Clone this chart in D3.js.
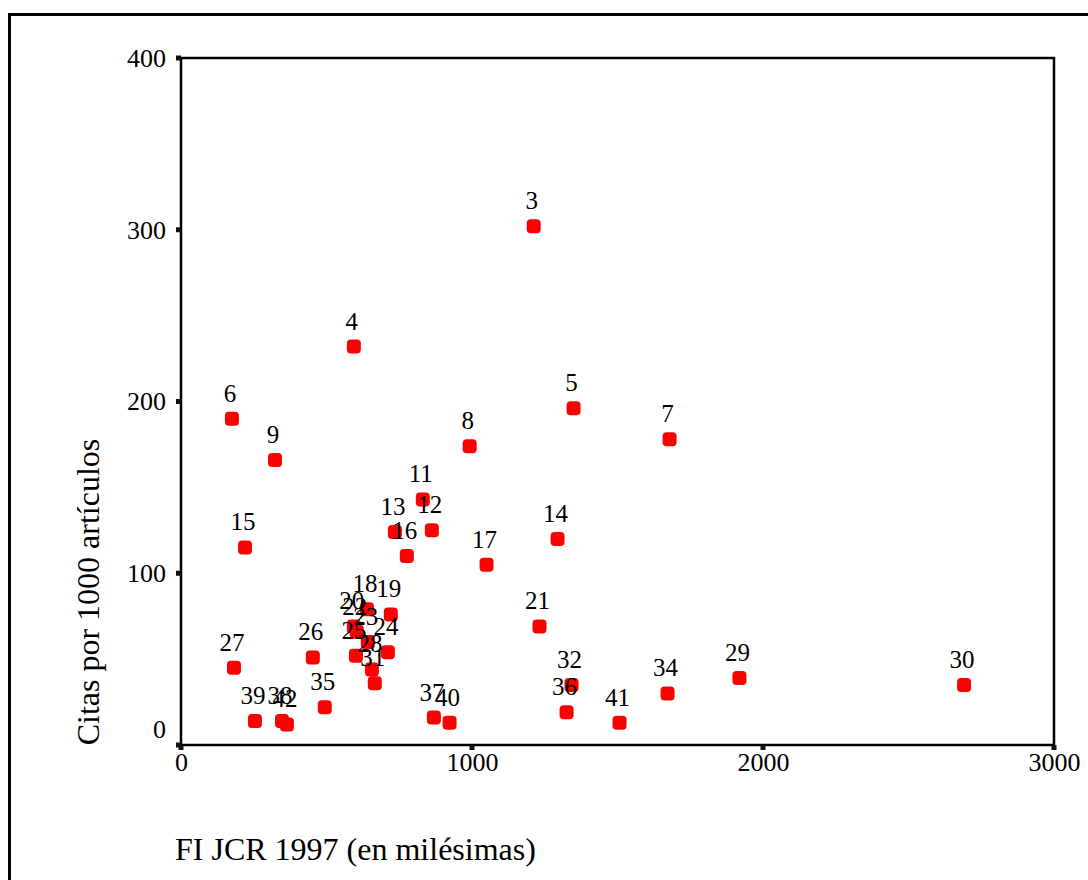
<!DOCTYPE html>
<html>
<head>
<meta charset="utf-8">
<script src="https://cdn.jsdelivr.net/npm/d3@7"></script>
<style>
    body { margin: 0; background: #fff; }
    svg { display: block; }
    text { font-family: "Liberation Serif", "Times New Roman", serif; fill: #000; }
</style>
</head>
<body>
<div id="chart"></div>
<script>
// Case numbers, impact factor (x) and citations per 1000 articles (y)
const caseIds = [3, 4, 5, 6, 7, 8, 9, 11, 12, 13, 14, 15, 16, 17, 18, 19, 20, 21, 22, 23, 24,
    25, 26, 27, 28, 29, 30, 31, 32, 34, 35, 36, 37, 38, 39, 40, 41, 42];
const fiValues = [1212, 594, 1349, 175, 1679, 992, 323, 831, 862, 735, 1294, 220, 776, 1050, 639, 721, 594, 1232, 604, 642, 711,
    601, 453, 182, 656, 1919, 2691, 666, 1342, 1672, 494, 1325, 869, 347, 254, 923, 1507, 364];
const citasValues = [302, 232, 196, 190, 178, 174, 166, 143, 125, 124, 120, 115, 110, 105, 79, 76, 69, 69, 66, 60, 54,
    52, 51, 45, 44, 39, 35, 36, 35, 30, 22, 19, 16, 14, 14, 13, 13, 12];
const xTicks = [0, 1000, 2000, 3000];
const yTicks = [0, 100, 200, 300, 400];

const width = 1088, height = 880;
const plot = { left: 181, top: 58, right: 1054, bottom: 745 };

const svg = d3.select('#chart')
    .append('svg')
    .attr('width', width)
    .attr('height', height);

// Outer border
svg.append('path')
    .attr('d', `M9.5,${height + 5} V14.5 H${width + 5}`)
    .attr('fill', 'none')
    .attr('stroke', '#000')
    .attr('stroke-width', 3);

const x = d3.scaleLinear().domain([0, 3000]).range([plot.left, plot.right]);
const y = d3.scaleLinear().domain([0, 400]).range([plot.bottom, plot.top]);

// Plot frame
svg.append('rect')
    .attr('x', plot.left)
    .attr('y', plot.top)
    .attr('width', plot.right - plot.left)
    .attr('height', plot.bottom - plot.top)
    .attr('fill', 'none')
    .attr('stroke', '#000')
    .attr('stroke-width', 2.5);

// Axes (tick labels only; square tick marks drawn separately)
svg.append('g')
    .attr('transform', `translate(0,${plot.bottom})`)
    .call(d3.axisBottom(x).tickValues(xTicks).tickSize(0).tickPadding(8).tickFormat(d3.format('d')))
    .call(g => g.select('.domain').remove())
    .call(g => g.selectAll('text').style('font-size', '26px').style('font-family', '"Liberation Serif", serif'));

svg.append('g')
    .attr('transform', `translate(${plot.left},0)`)
    .call(d3.axisLeft(y).tickValues(yTicks).tickSize(0).tickPadding(15).tickFormat(d3.format('d')))
    .call(g => g.select('.domain').remove())
    .call(g => g.selectAll('text').style('font-size', '26px').style('font-family', '"Liberation Serif", serif'))
    .call(g => g.selectAll('.tick').filter(d => d === 0).select('text').attr('dy', '-0.3em'));

svg.selectAll('.xtick-mark')
    .data(xTicks)
    .enter()
    .append('rect')
    .attr('x', d => x(d) - 2.5)
    .attr('y', plot.bottom)
    .attr('width', 5)
    .attr('height', 5)
    .attr('fill', '#111');

svg.selectAll('.ytick-mark')
    .data(yTicks)
    .enter()
    .append('rect')
    .attr('x', plot.left - 5)
    .attr('y', d => y(d) - 2.5)
    .attr('width', 5)
    .attr('height', 5)
    .attr('fill', '#111');

// Axis titles
svg.append('text')
    .attr('x', 175)
    .attr('y', 860)
    .style('font-size', '32px')
    .text('FI JCR 1997 (en milésimas)');

svg.append('text')
    .attr('transform', 'translate(99,592) rotate(-90)')
    .attr('text-anchor', 'middle')
    .style('font-size', '32px')
    .text('Citas por 1000 artículos');

// Points
const points = caseIds.map((id, i) => ({ id, fi: fiValues[i], citas: citasValues[i] }));

svg.selectAll('.dot')
    .data(points)
    .enter()
    .append('rect')
    .attr('class', 'dot')
    .attr('x', d => x(d.fi) - 7)
    .attr('y', d => y(d.citas) - 7)
    .attr('width', 14)
    .attr('height', 14)
    .attr('rx', 4)
    .attr('fill', '#ff0000');

svg.selectAll('.dot-label')
    .data(points)
    .enter()
    .append('text')
    .attr('class', 'dot-label')
    .attr('x', d => x(d.fi) - 2)
    .attr('y', d => y(d.citas) - 17)
    .attr('text-anchor', 'middle')
    .style('font-size', '25px')
    .text(d => d.id);
</script>
</body>
</html>
